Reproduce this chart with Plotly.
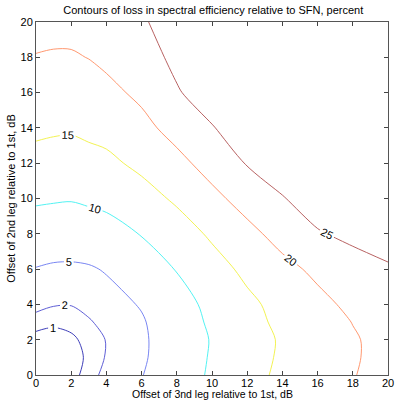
import plotly.graph_objects as go

# grid of offsets (dB), shared by both axes
grid = [0, 1, 2, 3, 4, 6, 8, 10, 12, 14, 16, 18, 20]

# loss values (percent); rows = 2nd-leg offset, cols = 3rd-leg offset
loss = [
    [0, 0.2, 0.6, 1.45, 2.44, 4.85, 7.73, 10.6, 13.5, 15.9, 17.8, 19.8, 21.6],
    [0.2, 0.3, 0.55, 1.2, 2.1, 4.45, 7.45, 10.4, 13.2, 15.6, 17.6, 19.55, 21.5],
    [0.6, 0.55, 0.75, 1.4, 2.05, 4.4, 7.3, 10.27, 13.0, 15.5, 17.55, 19.6, 21.4],
    [1.45, 1.2, 1.4, 1.78, 2.65, 4.6, 7.7, 10.7, 13.55, 16.0, 18.1, 20.1, 22.0],
    [2.44, 2.1, 2.05, 2.65, 3.5, 5.3, 8.24, 11.15, 14.0, 16.5, 18.8, 21.0, 23.0],
    [4.85, 4.45, 4.4, 4.6, 5.3, 7.7, 10.2, 13.2, 16.05, 18.7, 20.96, 22.8, 24.6],
    [7.73, 7.45, 7.3, 7.7, 8.24, 10.2, 12.8, 15.7, 18.7, 21.65, 24.56, 26.2, 26.6],
    [10.6, 10.4, 10.27, 10.7, 11.15, 13.2, 15.7, 18.8, 21.8, 24.7, 27.5, 29, 30],
    [13.5, 13.2, 13.0, 13.55, 14.0, 16.05, 18.7, 21.8, 25.3, 27.8, 30, 32, 33],
    [15.9, 15.6, 15.5, 16.0, 16.5, 18.7, 21.65, 24.7, 27.8, 31, 33, 35, 36],
    [17.8, 17.6, 17.55, 18.1, 18.8, 20.96, 24.56, 27.5, 30, 33, 35, 37, 38],
    [19.8, 19.55, 19.6, 20.1, 21.0, 22.8, 26.2, 29, 32, 35, 37, 39, 40],
    [21.6, 21.5, 21.4, 22.0, 23.0, 24.6, 26.6, 30, 33, 36, 38, 40, 41],
]

levels = [1, 2, 5, 10, 15, 20, 25]
level_colors = ["#2828b0", "#4c4cd0", "#6a78f0", "#40f0f0", "#f0f040", "#ff8c60", "#b05050"]

tick_vals = [0, 2, 4, 6, 8, 10, 12, 14, 16, 18, 20]

FONT = "Liberation Sans, Arial"

fig = go.Figure()
for lev, col in zip(levels, level_colors):
    fig.add_trace(go.Contour(
        x=grid, y=grid, z=loss,
        contours=dict(start=lev, end=lev, size=1, coloring="none",
                      showlabels=True,
                      labelfont=dict(family=FONT, size=11, color="black")),
        line=dict(color=col, width=0.9, smoothing=0.9),
        showscale=False, hoverinfo="skip",
    ))

axis_common = dict(
    range=[0, 20], tickvals=tick_vals, ticks="inside", ticklen=4, tickcolor="#444",
    showline=True, linecolor="#555", linewidth=1, mirror="ticks",
    showgrid=False, zeroline=False, automargin=False,
    tickfont=dict(family=FONT, size=11, color="black"),
)

fig.update_layout(
    width=395, height=401,
    margin=dict(l=36, r=7, t=22, b=26),
    paper_bgcolor="white", plot_bgcolor="white",
    showlegend=False,
    title=dict(text="Contours of loss in spectral efficiency relative to SFN, percent",
               x=0.54, xanchor="center", y=0.985, yanchor="top",
               font=dict(family=FONT, size=11, color="black")),
    xaxis=dict(**axis_common, ticklabelstandoff=-2),
    yaxis=dict(**axis_common,
               title=dict(text="Offset of 2nd leg relative to 1st, dB", standoff=2,
                          font=dict(family=FONT, size=11, color="black"))),
    annotations=[dict(text="Offset of 3nd leg relative to 1st, dB",
                      xref="paper", yref="paper", x=0.5, y=0,
                      xanchor="center", yanchor="bottom", yshift=-26, borderpad=0,
                      showarrow=False,
                      font=dict(family=FONT, size=10.5, color="black"))],
)

fig.write_html("out.html", config={"displayModeBar": False},
               post_script="document.body.style.margin='0';")
